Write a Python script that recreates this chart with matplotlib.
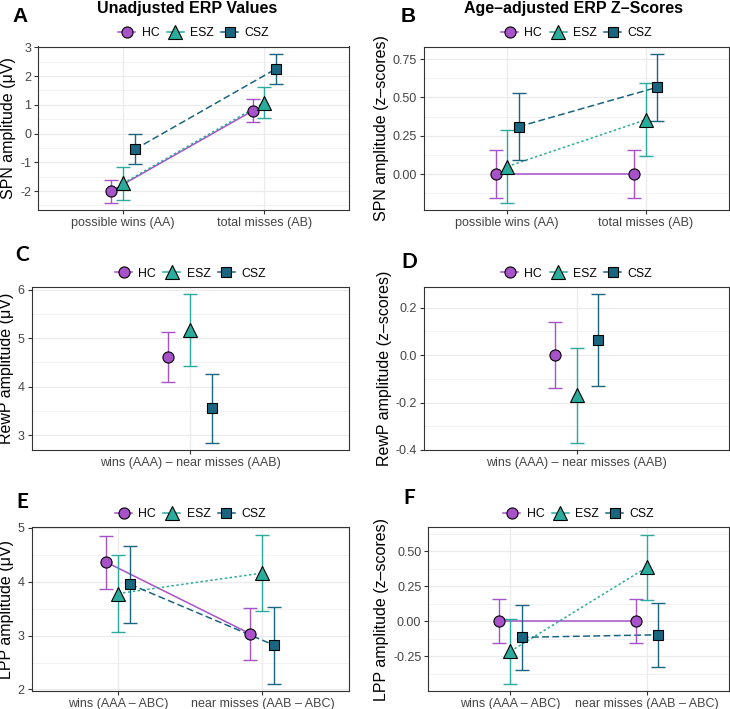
import numpy as np
import matplotlib.pyplot as plt
from matplotlib.lines import Line2D
from matplotlib.ticker import MultipleLocator, FormatStrFormatter

plt.rcParams['font.family'] = ['Liberation Sans', 'DejaVu Sans']

W, H = 730, 709

groups = ['HC', 'ESZ', 'CSZ']
colors = ['#A852CA', '#2AAB9B', '#1A6580']
markers = ['o', '^', 's']
msizes = [8, 10.5, 7.5]
styles = ['-', (0, (1.6, 1.6)), (0, (4.5, 2.2))]

cond_spn = ['possible wins (AA)', 'total misses (AB)']
cond_rewp = ['wins (AAA) \u2013 near misses (AAB)']
cond_lpp = ['wins (AAA \u2013 ABC)', 'near misses (AAB \u2013 ABC)']

# rows = HC, ESZ, CSZ ; columns = conditions
spn_raw = [[-2.00, 0.79], [-1.73, 1.08], [-0.55, 2.25]]
spn_raw_err = [[0.40, 0.40], [0.57, 0.55], [0.52, 0.52]]
spn_z = [[0.00, 0.00], [0.05, 0.355], [0.31, 0.567]]
spn_z_err = [[0.157, 0.157], [0.235, 0.237], [0.22, 0.217]]

rewp_raw = [[4.61], [5.16], [3.55]]
rewp_raw_err = [[0.52], [0.74], [0.71]]
rewp_z = [[0.00], [-0.17], [0.063]]
rewp_z_err = [[0.14], [0.20], [0.193]]

lpp_raw = [[4.36, 3.03], [3.78, 4.16], [3.95, 2.82]]
lpp_raw_err = [[0.49, 0.49], [0.71, 0.71], [0.71, 0.71]]
lpp_z = [[0.00, 0.00], [-0.215, 0.385], [-0.115, -0.097]]
lpp_z_err = [[0.157, 0.157], [0.23, 0.232], [0.23, 0.23]]

fig = plt.figure(figsize=(W / 100, H / 100), dpi=100)


def make_ax(l, r, t, b):
    return fig.add_axes([l / W, 1 - b / H, (r - l) / W, (b - t) / H])


def panel(ax, conds, means, errs, step, fmt, ylabel):
    means = np.array(means)
    errs = np.array(errs)
    x = np.arange(1, len(conds) + 1)
    offs = [-0.083, 0.0, 0.083]
    for i in range(3):
        ax.plot(x + offs[i], means[i], color=colors[i], ls=styles[i], lw=1.1, zorder=2)
    for i in range(3):
        ax.errorbar(x + offs[i], means[i], yerr=errs[i], fmt='none', ecolor=colors[i],
                    elinewidth=1.0, capsize=5, capthick=1.0, zorder=3)
    for i in range(3):
        ax.plot(x + offs[i], means[i], ls='none', marker=markers[i], ms=msizes[i],
                mfc=colors[i], mec='black', mew=0.8, zorder=4)

    lo = (means - errs).min()
    hi = (means + errs).max()
    pad = 0.05 * (hi - lo)
    ax.set_ylim(lo - pad, hi + pad)
    ax.set_xlim(0.4, len(conds) + 0.6)
    ax.set_xticks(x)
    ax.set_xticklabels(conds)
    ax.yaxis.set_major_locator(MultipleLocator(step))
    ax.yaxis.set_minor_locator(MultipleLocator(step / 2))
    ax.yaxis.set_major_formatter(FormatStrFormatter(fmt))
    ax.grid(True, which='major', color='#EBEBEB', lw=0.9, zorder=0)
    ax.grid(True, which='minor', axis='y', color='#F0F0F0', lw=0.6, zorder=0)
    ax.set_axisbelow(True)
    ax.tick_params(which='major', length=3, width=0.8, color='#333333',
                   labelcolor='#444444', labelsize=9, pad=2)
    ax.tick_params(which='minor', length=0)
    for s in ax.spines.values():
        s.set_color('#333333')
        s.set_linewidth(0.8)
    ax.set_ylabel(ylabel, fontsize=11.5, labelpad=3)

    handles = [Line2D([0], [0], color=colors[i], ls='-', lw=1.1, marker=markers[i],
                      ms=msizes[i], mfc=colors[i], mec='black', mew=0.8) for i in range(3)]
    ax.legend(handles, groups, loc='lower center', bbox_to_anchor=(0.5, 1.0), ncol=3,
              frameon=False, fontsize=8.8, handlelength=1.4, handletextpad=0.5,
              columnspacing=0.6, borderaxespad=0.2)


axA = make_ax(38.3, 349, 46.5, 210)
axB = make_ax(424, 729, 46.5, 210)
axC = make_ax(31.7, 349, 287, 450.3)
axD = make_ax(424, 729, 287, 450.3)
axE = make_ax(31.7, 349, 527.3, 691)
axF = make_ax(428.3, 729, 527.3, 691)

panel(axA, cond_spn, spn_raw, spn_raw_err, 1, '%d', 'SPN amplitude (\u03bcV)')
panel(axB, cond_spn, spn_z, spn_z_err, 0.25, '%.2f', 'SPN amplitude (z\u2013scores)')
panel(axC, cond_rewp, rewp_raw, rewp_raw_err, 1, '%d', 'RewP amplitude (\u03bcV)')
panel(axD, cond_rewp, rewp_z, rewp_z_err, 0.2, '%.1f', 'RewP amplitude (z\u2013scores)')
panel(axE, cond_lpp, lpp_raw, lpp_raw_err, 1, '%d', 'LPP amplitude (\u03bcV)')
panel(axF, cond_lpp, lpp_z, lpp_z_err, 0.25, '%.2f', 'LPP amplitude (z\u2013scores)')

fig.text(187 / W, 1 - 8 / H, 'Unadjusted ERP Values', ha='center', va='center',
         fontsize=11.5, fontweight='bold')
fig.text(573 / W, 1 - 8 / H, 'Age\u2013adjusted ERP Z\u2013Scores', ha='center', va='center',
         fontsize=11.5, fontweight='bold')

fig.text(20 / W, 1 - 17 / H, 'A', ha='center', va='center', fontsize=15, fontweight='bold')
fig.text(408 / W, 1 - 17 / H, 'B', ha='center', va='center', fontsize=15, fontweight='bold')
for lab, px, py in [('C', 22, 255), ('D', 409, 262), ('E', 22, 502), ('F', 409, 498)]:
    fig.text(px / W, 1 - py / H, lab, ha='center', va='center', fontsize=15,
             fontweight='bold', family=['Lato', 'DejaVu Sans'])

fig.savefig('out.png', dpi=100, facecolor='white')
